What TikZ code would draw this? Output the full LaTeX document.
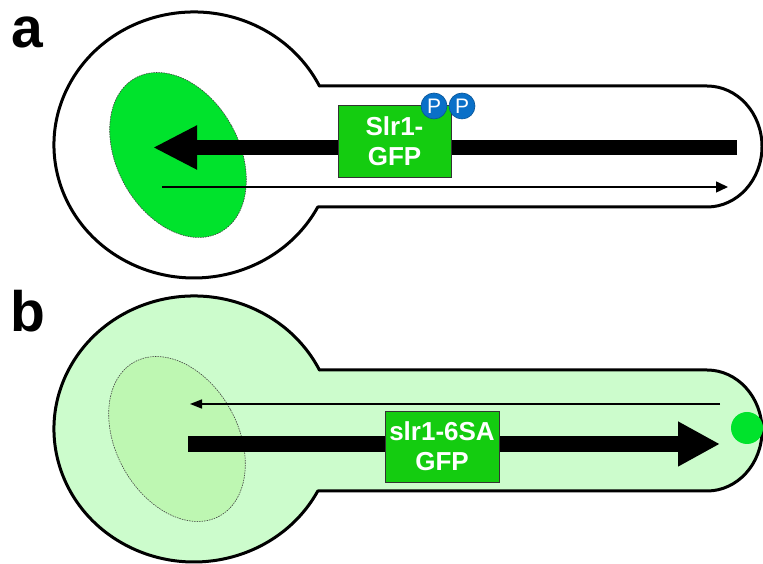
\documentclass[tikz,border=0pt]{standalone}
\usepackage{fontspec}
\setmainfont{Liberation Sans}
\usetikzlibrary{arrows.meta}
\definecolor{nucA}{HTML}{00E32C}
\definecolor{boxG}{HTML}{14CC10}
\definecolor{cellB}{HTML}{CCFCCC}
\definecolor{nucB}{HTML}{BEF7B2}
\definecolor{pblue}{HTML}{0A70C8}
\newcommand{\mycellpath}{(319.5,478) -- (707,478) arc[start angle=90,end angle=-90,x radius=55pt,y radius=60.5pt] -- (317.8,357) arc[start angle=332.2,end angle=26.3,x radius=140pt,y radius=133pt] -- cycle}
\begin{document}
\begin{tikzpicture}[x=1pt,y=1pt,
  celloutline/.style={draw=black, line width=3pt, line join=round},
  nucline/.style={draw=black!75, line width=0.6pt, dash pattern=on 1.5pt off 1pt},
  thickarrow/.style={line width=15pt},
  thinarrow/.style={line width=1.5pt},
  gbox/.style={draw=black!80, line width=0.8pt, fill=boxG, text=white,
    font=\bfseries\fontsize{26}{30}\selectfont, align=center,
    minimum width=113pt, minimum height=72pt, inner sep=0pt},
  pcirc/.style={circle, fill=pblue, draw=pblue!75!black, line width=0.6pt,
    minimum size=26pt, inner sep=0pt, text=white, font=\fontsize{21}{21}\selectfont},
  panellabel/.style={anchor=base west, inner sep=0pt, font=\bfseries\fontsize{57}{57}\selectfont}
]
\useasboundingbox (0,0) rectangle (763,564);
\fill[white] (0,0) rectangle (763,564);

% ---------- panel a ----------
\node[panellabel] (la) at (11,516) {a};
\path[celloutline, fill=white] \mycellpath;
\path[nucline, fill=nucA, rotate around={29:(178,409)}] (178,409) ellipse [x radius=61pt, y radius=88pt];
\coordinate (aS) at (737,416.5);
\coordinate (aT) at (153,416.5);
\draw[thickarrow, -{Triangle[length=44pt,width=41pt]}] (aS) -- (aT);
\coordinate (a2S) at (162,377);
\coordinate (a2T) at (728,377);
\draw[thinarrow, -{Triangle[length=12pt,width=11pt]}] (a2S) -- (a2T);
\node[gbox] (boxA) at (394.5,423) {Slr1-\\GFP};
\node[pcirc] (p1) at (434,458) {P};
\node[pcirc] (p2) at (462,458) {P};

% ---------- panel b ----------
\node[panellabel] (lb) at (10,232) {b};
\begin{scope}[yshift=-284pt]
\path[celloutline, fill=cellB] \mycellpath;
\end{scope}
\path[nucline, fill=nucB, rotate around={29:(177,125)}] (177,125) ellipse [x radius=61pt, y radius=88pt];
\coordinate (b2S) at (720,160);
\coordinate (b2T) at (190,160);
\draw[thinarrow, -{Triangle[length=12pt,width=9pt]}] (b2S) -- (b2T);
\coordinate (bS) at (188,120);
\coordinate (bT) at (720,120);
\draw[line width=16pt, -{Triangle[length=42pt,width=42pt]}] (bS) -- (bT);
\node[gbox, minimum width=114pt, minimum height=71pt] (boxB) at (442,117.5) {slr1-6SA\\GFP};
\node[circle, fill=nucA, minimum size=32pt, inner sep=0pt] (dot) at (747,136) {};
\end{tikzpicture}
\end{document}
